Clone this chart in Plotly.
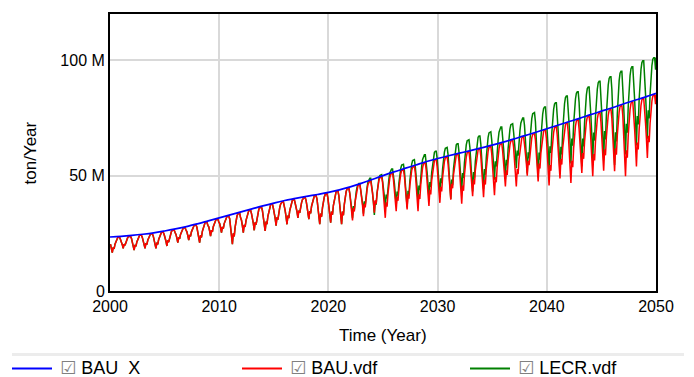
import plotly.graph_objects as go

# ---- data (tons per year) ----
years = list(range(2000, 2051))

# BAU X: smooth reference trajectory, one value per year
bau_x = [23.4, 23.7, 24.1, 24.6, 25.2, 26.0, 26.9, 27.9, 29.1, 30.4,
         31.7, 33.0, 34.3, 35.6, 36.9, 38.1, 39.2, 40.1, 41.0, 41.8,
         42.7, 43.8, 45.1, 46.6, 48.3, 50.0, 51.6, 53.1, 54.6, 56.1,
         57.4, 58.6, 59.7, 60.8, 62.0, 63.2, 64.5, 65.9, 67.3, 68.8,
         70.3, 71.8, 73.3, 74.8, 76.4, 77.9, 79.4, 81.0, 82.5, 84.0, 85.6]

cycle_years = list(range(2000, 2050))

# BAU.vdf: yearly high and low of the seasonal cycle
bau_peak = [23.3, 23.7, 24.2, 24.8, 25.5, 26.4, 27.4, 28.6, 29.8, 31.1,
            32.4, 33.7, 35.0, 36.3, 37.6, 38.7, 39.6, 40.5, 41.3, 42.1,
            43.3, 44.6, 46.0, 47.7, 49.4, 51.0, 52.5, 54.0, 55.5, 56.9,
            58.1, 59.2, 60.3, 61.5, 62.7, 63.9, 65.3, 66.7, 68.2, 69.7,
            71.2, 72.7, 74.2, 75.8, 77.3, 78.8, 80.4, 81.9, 83.4, 85.0]
bau_low = [16.6, 18.5, 17.7, 18.5, 18.5, 19.5, 21.0, 22.0, 21.0, 23.8,
           25.3, 20.3, 25.3, 26.3, 26.0, 28.3, 28.9, 31.7, 31.1, 28.9,
           29.6, 28.9, 30.6, 32.4, 33.9, 31.7, 34.6, 35.3, 34.6, 36.8,
           38.2, 39.6, 37.8, 41.1, 40.6, 41.5, 45.3, 45.3, 50.0, 47.5,
           45.7, 48.8, 46.8, 51.1, 49.7, 52.1, 51.9, 49.7, 54.0, 57.6]

# LECR.vdf: identical to BAU until 2022, then its own yearly high and low
lecr_peak = bau_peak[:22] + [
    46.6, 48.8, 50.4, 52.9, 54.9, 56.9, 59.0, 60.5, 62.2, 63.8,
    65.5, 67.1, 69.0, 71.1, 72.5, 75.0, 77.3, 79.7, 81.6, 84.5,
    86.3, 88.4, 90.9, 92.8, 95.2, 97.1, 99.7, 101.1]
lecr_low = bau_low[:22] + [
    31.5, 33.5, 33.0, 35.8, 36.8, 36.2, 38.6, 40.0, 41.6, 39.9,
    43.4, 43.1, 44.1, 48.2, 48.4, 53.2, 50.9, 49.3, 52.5, 50.7,
    55.2, 54.0, 56.6, 56.6, 54.6, 59.1, 63.0, 66.0]

# typical monthly position within the yearly range (0 = low, 1 = high)
season_shape = [0.55, 0.30, 0.00, 0.35, 0.25, 0.55,
                0.75, 0.90, 0.98, 1.00, 1.00, 0.85]

end_values = {"BAU.vdf": 85.0, "LECR.vdf": 101.0}

M = 1e6


def seasonal(peaks, lows, end_value):
    t, v = [], []
    for yr, hi, lo in zip(cycle_years, peaks, lows):
        for m, s in enumerate(season_shape):
            t.append(yr + (m + 0.5) / 12)
            v.append((lo + s * (hi - lo)) * M)
    t.append(2050)
    v.append(end_value * M)
    return t, v


fig = go.Figure()

gx, gy = seasonal(lecr_peak, lecr_low, end_values["LECR.vdf"])
rx, ry = seasonal(bau_peak, bau_low, end_values["BAU.vdf"])

fig.add_trace(go.Scatter(x=gx, y=gy, mode="lines", name="LECR.vdf",
                         line=dict(color="#008000", width=1.5)))
fig.add_trace(go.Scatter(x=rx, y=ry, mode="lines", name="BAU.vdf",
                         line=dict(color="#ff0000", width=1.5)))
fig.add_trace(go.Scatter(x=years, y=[v * M for v in bau_x], mode="lines",
                         name="BAU  X", line=dict(color="#0000ff", width=1.7,
                                                  shape="spline")))

FONT = "Liberation Sans, Arial, DejaVu Sans, sans-serif"

fig.update_layout(
    width=694, height=377,
    margin=dict(l=110, r=38, t=12, b=86),
    paper_bgcolor="white", plot_bgcolor="white",
    showlegend=False,
    font=dict(family=FONT, size=16, color="#000"),
    xaxis=dict(range=[2000, 2050], tickvals=[2000, 2010, 2020, 2030, 2040, 2050],
               ticktext=["2000", "2010", "2020", "2030", "2040", "2050"],
               showgrid=True, gridcolor="#d9d9d9", gridwidth=2,
               showline=True, linecolor="black", linewidth=2, mirror=True,
               ticks="", tickfont=dict(size=16), zeroline=False),
    yaxis=dict(range=[0, 120 * M], tickvals=[0, 50 * M, 100 * M],
               ticktext=["0", "50 M", "100 M"],
               showgrid=True, gridcolor="#d9d9d9", gridwidth=2,
               showline=True, linecolor="black", linewidth=2, mirror=True,
               ticks="", tickfont=dict(size=16), zeroline=False),
)

# axis titles
fig.add_annotation(text="Time (Year)", xref="paper", yref="paper",
                   x=0.5, y=-0.161, xanchor="center", yanchor="middle",
                   showarrow=False, font=dict(size=17))
fig.add_annotation(text="ton/Year", xref="paper", yref="paper",
                   x=-0.1447, y=0.5, xanchor="center", yanchor="middle",
                   textangle=-90, showarrow=False, font=dict(size=17))

# legend strip
fig.add_shape(type="line", xref="paper", yref="paper",
              x0=-0.1795, x1=1.0513, y0=-0.2294, y1=-0.2294,
              line=dict(color="#ececec", width=3))

legend_items = [("BAU  X", "#0000ff", 12), ("BAU.vdf", "#ff0000", 242),
                ("LECR.vdf", "#008000", 470)]
ly = -0.2796
for label, color, px in legend_items:
    x0 = (px - 110) / 546
    x1 = (px + 40 - 110) / 546
    fig.add_shape(type="line", xref="paper", yref="paper",
                  x0=x0, x1=x1, y0=ly, y1=ly,
                  line=dict(color=color, width=2))
    fig.add_annotation(
        text='<span style="color:#808080">☑</span> ' + label,
        xref="paper", yref="paper", x=(px + 46 - 110) / 546, y=ly,
        xanchor="left", yanchor="middle", showarrow=False,
        font=dict(size=18))

fig.write_html("out.html")
